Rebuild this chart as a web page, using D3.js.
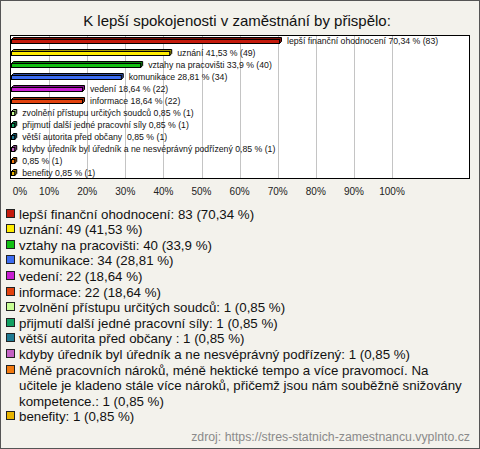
<!DOCTYPE html>
<html><head><meta charset="utf-8">
<script src="https://cdn.jsdelivr.net/npm/d3@7"></script>
<style>body{margin:0;background:#fff}svg{display:block}</style>
</head><body>
<script>
const title = "K lepší spokojenosti v zaměstnání by přispělo:";
const categories = [
  "lepší finanční ohodnocení",
  "uznání",
  "vztahy na pracovišti",
  "komunikace",
  "vedení",
  "informace",
  "zvolnění přístupu určitých soudců",
  "přijmutí další jedné pracovní síly",
  "větší autorita před občany ",
  "kdyby úředník byl úředník a ne nesvéprávný podřízený",
  "Méně pracovních nároků, méně hektické tempo a více pravomocí. Na učitele je kladeno stále více nároků, přičemž jsou nám souběžně snižovány kompetence.",
  "benefity"
];
const chartLabels = [
  "lepší finanční ohodnocení",
  "uznání",
  "vztahy na pracovišti",
  "komunikace",
  "vedení",
  "informace",
  "zvolnění přístupu určitých soudců",
  "přijmutí další jedné pracovní síly",
  "větší autorita před občany ",
  "kdyby úředník byl úředník a ne nesvéprávný podřízený",
  "",
  "benefity"
];
const counts = [83, 49, 40, 34, 22, 22, 1, 1, 1, 1, 1, 1];
const percents = [70.34, 41.53, 33.9, 28.81, 18.64, 18.64, 0.85, 0.85, 0.85, 0.85, 0.85, 0.85];
const colors = ["#c41a0c","#ffec00","#12c012","#3c6cf0","#c81ed2","#e2420e","#c8ff94","#12a062","#1f7a92","#c462c4","#f27a10","#e8b400"];
const tickValues = [0,10,20,30,40,50,60,70,80,90,100];
const source = "zdroj: https://stres-statnich-zamestnancu.vyplnto.cz";

const W = 480, H = 449;
const fmt = v => String(v).replace(".", ",");
const svg = d3.select("body").append("svg").attr("width", W).attr("height", H);
svg.append("rect").attr("x",0.5).attr("y",0.5).attr("width",W-1).attr("height",H-1)
  .attr("fill","#f3f2ec").attr("stroke","#555");

svg.append("text").attr("x",237).attr("y",26).attr("text-anchor","middle")
  .attr("font-family","Liberation Sans, Arial, sans-serif").attr("font-size",15).attr("fill","#111").text(title);

const plot = {l:10, t:35, r:470, b:179};
const x = d3.scaleLinear().domain([0,100]).range([11, 392]);
const y = d3.scaleBand().domain(d3.range(categories.length)).range([plot.t, plot.b]);

svg.append("rect").attr("x",plot.l+0.5).attr("y",plot.t+0.5).attr("width",plot.r-plot.l-1).attr("height",plot.b-plot.t-1)
  .attr("fill","#fff").attr("stroke","none");
svg.append("g").selectAll("line").data(tickValues.slice(1)).join("line")
  .attr("x1",d=>Math.round(x(d))+0.5).attr("x2",d=>Math.round(x(d))+0.5)
  .attr("y1",plot.t).attr("y2",plot.b).attr("stroke","#c4c4c4");
svg.append("rect").attr("x",plot.l+0.5).attr("y",plot.t+0.5).attr("width",plot.r-plot.l-1).attr("height",plot.b-plot.t-1)
  .attr("fill","none").attr("stroke","#000");

const bars = svg.append("g");
percents.forEach((p,i) => {
  const x0 = x(0)+0.5, x1 = x(p)+0.5;
  const yc = y(i) + y.bandwidth()/2;
  const top = Math.round(yc - 2) + 0.5, h = 4, d = 2;
  bars.append("path")
    .attr("d", `M${x0},${top} L${x0+d},${top-d} L${x1+d},${top-d} L${x1+d},${top+h-d} L${x1},${top+h} L${x1},${top} Z`)
    .attr("fill", d3.color(colors[i]).darker(1.2)).attr("stroke","#000").attr("stroke-width",1);
  bars.append("rect").attr("x",x0).attr("y",top).attr("width",Math.max(x1-x0,1)).attr("height",h)
    .attr("fill",colors[i]).attr("stroke","#000").attr("stroke-width",1);
  const lab = (chartLabels[i] ? chartLabels[i] + " " : "") + fmt(p) + " % (" + counts[i] + ")";
  bars.append("text").attr("x", x(p) + 8).attr("y", yc + 3)
    .attr("font-family","Liberation Sans, Arial, sans-serif").attr("font-size",8.7).attr("fill","#111")
    .attr("xml:space","preserve").text(lab);
});

const axisG = svg.append("g").attr("transform",`translate(0,195)`);
axisG.selectAll("text").data(tickValues).join("text")
  .attr("x", d => d===0 ? 20 : x(d)).attr("y",0).attr("text-anchor","middle")
  .attr("font-family","Liberation Sans, Arial, sans-serif").attr("font-size",10).attr("fill","#222")
  .text(d => d + "%");

const lg = svg.append("g");
const step = 15.6;
let ly = 218.5;
categories.forEach((c,i) => {
  const full = c + ": " + counts[i] + " (" + fmt(percents[i]) + " %)";
  const t = lg.append("text").attr("x",19).attr("y",ly)
    .attr("font-family","Liberation Sans, Arial, sans-serif").attr("font-size",13.3).attr("fill","#111");
  const words = full.split(" ");
  let line = [], tsp = t.append("tspan").attr("x",19).attr("y",ly), lines = 1;
  words.forEach(w => {
    line.push(w);
    tsp.text(line.join(" "));
    if (tsp.node().getComputedTextLength() > 446 && line.length > 1) {
      line.pop(); tsp.text(line.join(" "));
      line = [w];
      tsp = t.append("tspan").attr("x",19).attr("y", ly + lines*step).text(w);
      lines++;
    }
  });
  lg.append("rect").attr("x",6.5).attr("y",Math.round(ly-10)+0.5).attr("width",8).attr("height",8)
    .attr("fill",colors[i]).attr("stroke","#222");
  ly += lines*step;
});

svg.append("text").attr("x",470).attr("y",441).attr("text-anchor","end")
  .attr("font-family","Liberation Sans, Arial, sans-serif").attr("font-size",12.3).attr("fill","#8a8a8a").text(source);
</script>
</body></html>
